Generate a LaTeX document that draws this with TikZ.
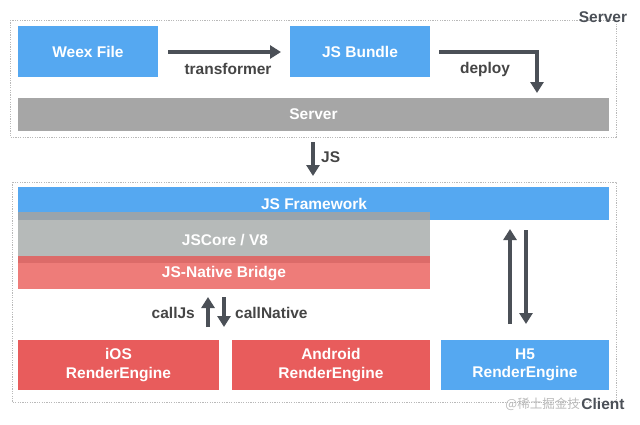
\documentclass[tikz,border=0pt]{standalone}
\usepackage{fontspec}
\setmainfont{Liberation Sans}
\newfontfamily\cjkfont{Noto Sans CJK SC}
\usetikzlibrary{arrows.meta}
\definecolor{wblue}{HTML}{55A8F1}
\definecolor{wgray}{HTML}{A6A6A6}
\definecolor{cgray}{HTML}{B6BAB9}
\definecolor{sgray}{HTML}{9AA4AC}
\definecolor{bred}{HTML}{EE7C79}
\definecolor{sred}{HTML}{DC6B69}
\definecolor{ered}{HTML}{E85C5C}
\definecolor{arr}{HTML}{4B5057}
\definecolor{lbl}{HTML}{454545}
\begin{document}
\begin{tikzpicture}[x=1pt,y=-1pt,
  boxfill/.style={inner sep=0pt, text=white, font=\fontsize{15.5}{18.5}\selectfont\bfseries, align=center},
  bluebox/.style={boxfill, fill=wblue},
  redbox/.style={boxfill, fill=ered},
  region/.style={draw=gray!55, dash pattern=on 1.2pt off 1.2pt, line width=0.6pt},
  conn/.style={draw=arr, line width=3.6pt, -{Triangle[length=11pt,width=13pt]}},
  lab/.style={text=lbl, font=\fontsize{15.5}{18}\selectfont\bfseries, inner sep=1pt}]
\useasboundingbox (0,0) rectangle (640,424);
% regions
\draw[region] (10,20) rectangle (616,137);
\node[lab, text=arr] (serverlbl) at (603,17) {Server};
\draw[region] (12,182) rectangle (616,402);
\node[text=gray!55, font=\cjkfont\fontsize{12.5}{14}\selectfont, inner sep=0pt, anchor=east] (wm) at (580,404) {@稀土掘金技};
\node[lab, text=arr] (clientlbl) at (603,404) {Client};
% server part
\path[bluebox] (18,26) rectangle (158,77) node[midway] (weex) {Weex File};
\path[bluebox] (290,26) rectangle (430,77) node[midway] (bundle) {JS Bundle};
\path[fill=wgray] (18,98) rectangle (609,131) node[boxfill, midway] (server) {Server};
\coordinate (t1) at (168,52);
\coordinate (t2) at (281,52);
\draw[conn] (t1) -- (t2);
\node[lab] (transl) at (228,69) {transformer};
\coordinate (d1) at (439,52);
\coordinate (d2) at (537,93);
\draw[conn] (d1) -| (d2);
\node[lab] (deployl) at (485,69) {deploy};
% JS arrow
\coordinate (j1) at (313,142);
\coordinate (j2) at (313,176);
\draw[conn] (j1) -- (j2);
\node[lab, anchor=west] (jsl) at (320,157) {JS};
% client stack
\path[fill=wblue] (18,187) rectangle (609,220);
\path[fill=cgray] (18,220) rectangle (430,263);
\path[fill=sgray] (18,212) rectangle (430,220);
\path[fill=bred] (18,263) rectangle (430,289);
\path[fill=sred] (18,256) rectangle (430,263);
\node[boxfill] (jsf) at (314,204) {JS Framework};
\node[boxfill] (jscore) at (225,240) {JSCore / V8};
\node[boxfill] (bridge) at (224,274) {JS-Native Bridge};
% engines
\path[redbox] (18,340) rectangle (219,390) node[midway] (ios) {iOS\\RenderEngine};
\path[redbox] (232,340) rectangle (430,390) node[midway] (android) {Android\\RenderEngine};
\path[bluebox] (441,340) rectangle (609,390) node[midway] (h5) {H5\\RenderEngine};
% callJs / callNative
\coordinate (c1) at (208,327);
\coordinate (c2) at (208,297);
\coordinate (c3) at (224,297);
\coordinate (c4) at (224,327);
\draw[conn] (c1) -- (c2);
\draw[conn] (c3) -- (c4);
\node[lab, anchor=east] (calljs) at (196,313) {callJs};
\node[lab, anchor=west] (callnative) at (234,313) {callNative};
% H5 arrows
\coordinate (h1) at (510,324);
\coordinate (h2) at (510,229);
\coordinate (h3) at (526,230);
\coordinate (h4) at (526,324);
\draw[conn] (h1) -- (h2);
\draw[conn] (h3) -- (h4);
\end{tikzpicture}
\end{document}
